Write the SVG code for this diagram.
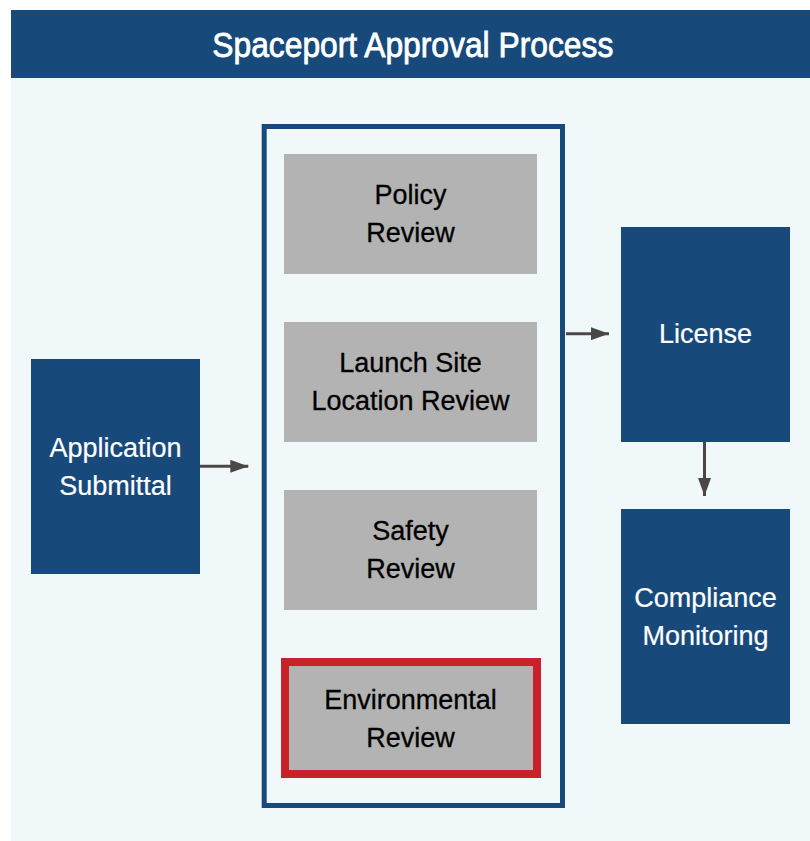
<svg xmlns="http://www.w3.org/2000/svg" width="810" height="841" viewBox="0 0 810 841">
  <defs>
    <style>
      .navy { fill: #174A7B; }
      .gray { fill: #B3B3B3; }
      .lbl { font-family: "Liberation Sans", Arial, sans-serif; font-size: 27px; text-anchor: middle; }
      .dark { fill: #000000; stroke: #000000; stroke-width: 0.3; }
      .light { fill: #FFFFFF; stroke: #FFFFFF; stroke-width: 0.2; }
      .conn { stroke: #4B4747; stroke-width: 3; fill: none; }
    </style>
    <marker id="arr" markerWidth="18" markerHeight="13" refX="18" refY="6.5" orient="auto" markerUnits="userSpaceOnUse">
      <path d="M0,0 L18,6.5 L0,13 Z" fill="#4B4747"/>
    </marker>
  </defs>
  <rect x="0" y="0" width="810" height="841" fill="#FFFFFF"/>
  <rect x="11" y="78" width="799" height="763" fill="#F1F8FA"/>
  <g id="title">
    <rect x="11" y="10" width="799" height="68" class="navy"/>
    <text x="412.8" y="57" font-family="'Liberation Sans', Arial, sans-serif" font-size="35" fill="#FFFFFF" stroke="#FFFFFF" stroke-width="0.8" text-anchor="middle" textLength="401" lengthAdjust="spacingAndGlyphs">Spaceport Approval Process</text>
  </g>
  <g id="review-container">
    <rect x="264.2" y="126.5" width="298.3" height="679" fill="none" stroke="#174A7B" stroke-width="5"/>
  </g>
  <g id="application-submittal">
    <rect x="31" y="359" width="169" height="215" class="navy"/>
    <text class="lbl light" x="115.5" y="456.7">Application</text>
    <text class="lbl light" x="115.5" y="494.7">Submittal</text>
  </g>
  <g id="policy-review">
    <rect x="284" y="154" width="253" height="120" class="gray"/>
    <text class="lbl dark" x="410.5" y="204.3">Policy</text>
    <text class="lbl dark" x="410.5" y="241.7">Review</text>
  </g>
  <g id="launch-site-review">
    <rect x="284" y="322" width="253" height="120" class="gray"/>
    <text class="lbl dark" x="410.5" y="372.3">Launch Site</text>
    <text class="lbl dark" x="410.5" y="410">Location Review</text>
  </g>
  <g id="safety-review">
    <rect x="284" y="490" width="253" height="120" class="gray"/>
    <text class="lbl dark" x="410.5" y="540.3">Safety</text>
    <text class="lbl dark" x="410.5" y="578.3">Review</text>
  </g>
  <g id="environmental-review">
    <rect x="285" y="662" width="252" height="112" class="gray" stroke="#C8212A" stroke-width="8"/>
    <text class="lbl dark" x="410.5" y="709">Environmental</text>
    <text class="lbl dark" x="410.5" y="746.7">Review</text>
  </g>
  <g id="license">
    <rect x="621" y="227" width="169" height="215" class="navy"/>
    <text class="lbl light" x="705.5" y="343.3">License</text>
  </g>
  <g id="compliance-monitoring">
    <rect x="621" y="509" width="169" height="215" class="navy"/>
    <text class="lbl light" x="705.5" y="607.3">Compliance</text>
    <text class="lbl light" x="705.5" y="645">Monitoring</text>
  </g>
  <g id="connectors">
    <line class="conn" x1="200" y1="466.3" x2="248.3" y2="466.3" marker-end="url(#arr)"/>
    <line class="conn" x1="566" y1="333.7" x2="609" y2="333.7" marker-end="url(#arr)"/>
    <line class="conn" x1="704.5" y1="442" x2="704.5" y2="496" marker-end="url(#arr)"/>
  </g>
</svg>
